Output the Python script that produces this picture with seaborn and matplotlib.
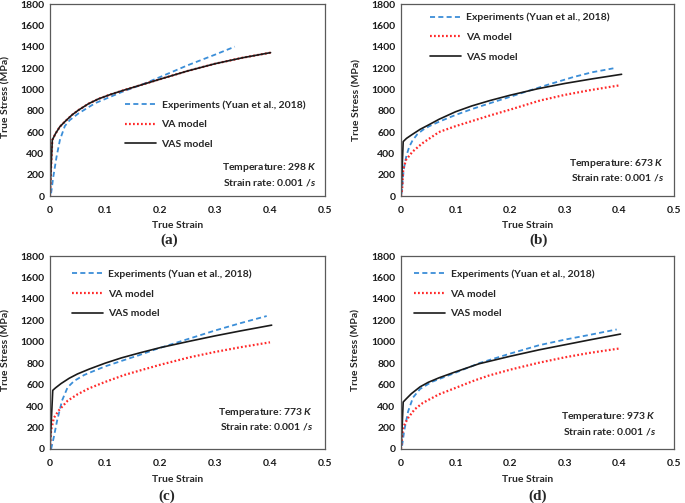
import matplotlib
matplotlib.use('Agg')
import matplotlib.pyplot as plt
import seaborn as sns

sns.set_style('white')
plt.rcParams['font.family'] = ['Lato', 'DejaVu Sans']
plt.rcParams['font.weight'] = 'bold'
plt.rcParams['mathtext.fontset'] = 'custom'
plt.rcParams['mathtext.it'] = 'Lato:italic:bold'
plt.rcParams['mathtext.rm'] = 'Lato:bold'

# ---- panel (a): 298 K ----
exp_a_x = [0.002, 0.006, 0.012, 0.018, 0.027, 0.036, 0.052, 0.082, 0.133, 0.17, 0.2, 0.25, 0.3, 0.336]
exp_a_y = [25, 180, 370, 525, 656, 712, 775, 870, 980, 1050, 1115, 1225, 1325, 1400]
va_a_x = [0.0, 0.002, 0.0042, 0.01, 0.018, 0.027, 0.04, 0.052, 0.07, 0.088, 0.11, 0.133, 0.17, 0.2, 0.25, 0.3, 0.35, 0.401]
va_a_y = [0, 280, 525, 585, 650, 697, 760, 806, 865, 910, 952, 990, 1048, 1095, 1172, 1240, 1296, 1344]
vas_a_x = [0.0, 0.002, 0.0042, 0.01, 0.018, 0.027, 0.04, 0.052, 0.07, 0.088, 0.11, 0.133, 0.17, 0.2, 0.25, 0.3, 0.35, 0.401]
vas_a_y = [0, 280, 525, 585, 650, 697, 760, 806, 865, 910, 952, 990, 1048, 1095, 1172, 1240, 1296, 1344]

# ---- panel (b): 673 K ----
exp_b_x = [0.001, 0.005, 0.01, 0.015, 0.021, 0.03, 0.04, 0.052, 0.0714, 0.1, 0.13, 0.163, 0.2, 0.236, 0.27, 0.3156, 0.35, 0.389]
exp_b_y = [20, 250, 380, 460, 520, 580, 620, 655, 700, 760, 815, 870, 930, 990, 1045, 1115, 1160, 1197]
va_b_x = [0.0, 0.002, 0.004, 0.009, 0.021, 0.039, 0.064, 0.0714, 0.1, 0.136, 0.163, 0.2, 0.2546, 0.3, 0.346, 0.401]
va_b_y = [0, 56, 244, 337, 415, 494, 580, 603, 655, 712, 755, 810, 895, 948, 992, 1038]
vas_b_x = [0.0, 0.002, 0.004, 0.01, 0.02, 0.035, 0.05, 0.07, 0.1, 0.13, 0.163, 0.2, 0.25, 0.3, 0.35, 0.404]
vas_b_y = [0, 250, 510, 540, 575, 625, 665, 720, 790, 845, 895, 945, 1005, 1055, 1098, 1141]

# ---- panel (c): 773 K ----
exp_c_x = [0.002, 0.007, 0.013, 0.022, 0.032, 0.044, 0.062, 0.0712, 0.1, 0.135, 0.162, 0.192, 0.2536, 0.3, 0.345, 0.394]
exp_c_y = [0, 112, 267, 453, 575, 635, 690, 710, 770, 830, 875, 930, 1030, 1105, 1172, 1240]
va_c_x = [0.0, 0.001, 0.002, 0.007, 0.016, 0.032, 0.05, 0.0712, 0.1, 0.135, 0.162, 0.2, 0.2536, 0.3, 0.345, 0.4]
va_c_y = [0, 100, 174, 290, 360, 450, 510, 566, 625, 690, 730, 785, 855, 905, 948, 995]
vas_c_x = [0.0, 0.002, 0.005, 0.01, 0.02, 0.035, 0.05, 0.0712, 0.1, 0.13, 0.162, 0.2, 0.2536, 0.3, 0.345, 0.403]
vas_c_y = [0, 220, 547, 570, 610, 660, 700, 745, 800, 850, 895, 945, 1005, 1055, 1100, 1155]

# ---- panel (d): 973 K ----
exp_d_x = [0.002, 0.006, 0.013, 0.022, 0.035, 0.056, 0.0696, 0.1, 0.143, 0.2, 0.253, 0.3, 0.344, 0.395]
exp_d_y = [30, 174, 350, 480, 560, 625, 652, 712, 800, 890, 968, 1020, 1063, 1115]
va_d_x = [0.0, 0.002, 0.004, 0.013, 0.025, 0.04, 0.0696, 0.1, 0.135, 0.161, 0.2, 0.253, 0.3, 0.344, 0.402]
va_d_y = [0, 120, 205, 290, 370, 430, 510, 570, 640, 685, 740, 805, 855, 895, 939]
vas_d_x = [0.0, 0.002, 0.004, 0.01, 0.019, 0.035, 0.05, 0.0696, 0.1, 0.143, 0.2, 0.253, 0.3, 0.344, 0.402]
vas_d_y = [0, 200, 438, 470, 516, 580, 622, 664, 720, 795, 865, 925, 972, 1016, 1072]

temps = ['298', '673', '773', '973']
panel_tags = ['(a)', '(b)', '(c)', '(d)']
series_names = ['Experiments (Yuan et al., 2018)', 'VA model', 'VAS model']
x_ticks = [0, 0.1, 0.2, 0.3, 0.4, 0.5]
x_labels = ['0', '0.1', '0.2', '0.3', '0.4', '0.5']
y_ticks = list(range(0, 1801, 200))

W, H = 685, 503


def box(l, t, r, b):
    return [l / W, 1 - b / H, (r - l) / W, (b - t) / H]


panels = [
    dict(data=[(exp_a_x, exp_a_y), (va_a_x, va_a_y), (vas_a_x, vas_a_y)],
         rect=(50, 4, 325, 196), leg=(0.273, 0.50), note=(0.97, 0.146, 0.068),
         ylab=(6, 97), xlab=(178, 226), tag=(169, 240)),
    dict(data=[(exp_b_x, exp_b_y), (va_b_x, va_b_y), (vas_b_x, vas_b_y)],
         rect=(401, 4, 674, 196), leg=(0.106, 0.955), note=(0.964, 0.167, 0.094),
         ylab=(357, 100), xlab=(528, 226), tag=(539, 240)),
    dict(data=[(exp_c_x, exp_c_y), (va_c_x, va_c_y), (vas_c_x, vas_c_y)],
         rect=(50, 256, 325, 449), leg=(0.08, 0.93), note=(0.957, 0.188, 0.116),
         ylab=(6, 350), xlab=(178, 479), tag=(167, 496)),
    dict(data=[(exp_d_x, exp_d_y), (va_d_x, va_d_y), (vas_d_x, vas_d_y)],
         rect=(401, 256, 674, 449), leg=(0.048, 0.93), note=(0.934, 0.167, 0.09),
         ylab=(356, 350), xlab=(528, 479), tag=(538, 496)),
]

styles = [
    dict(color='#3b8ed8', lw=1.3, linestyle=(0, (2.8, 1.8))),
    dict(color='#ff2a2a', lw=1.6, linestyle=(0, (0.8, 1.0))),
    dict(color='#1a1a1a', lw=1.2, linestyle='-'),
]

fig = plt.figure(figsize=(6.85, 5.03), dpi=100)

for i, p in enumerate(panels):
    ax = fig.add_axes(box(*p['rect']))
    for (xs, ys), name, st in zip(p['data'], series_names, styles):
        sns.lineplot(x=xs, y=ys, ax=ax, label=name, sort=False, **st)

    ax.set_xlim(0, 0.5)
    ax.set_ylim(0, 1800)
    ax.set_xticks(x_ticks)
    ax.set_xticklabels(x_labels)
    ax.set_yticks(y_ticks)
    ax.tick_params(length=0, labelsize=7.5, colors='#1a1a1a')
    ax.tick_params(axis='x', pad=7)
    ax.tick_params(axis='y', pad=4)
    ax.set_xlabel('')
    ax.set_ylabel('')
    for sp in ax.spines.values():
        sp.set_visible(True)
        sp.set_color('#5a5a5a')
        sp.set_linewidth(0.9)

    ax.legend(loc='upper left', bbox_to_anchor=p['leg'], frameon=False,
              borderaxespad=0, borderpad=0, handlelength=3.0,
              handletextpad=0.5, labelspacing=1.0, fontsize=7.5)

    nx, ny1, ny2 = p['note']
    ax.text(nx, ny1, 'Temperature: ' + temps[i] + ' $K$', transform=ax.transAxes,
            ha='right', va='center', fontsize=7.5, fontweight='bold')
    ax.text(nx, ny2, 'Strain rate: 0.001 /$s$', transform=ax.transAxes,
            ha='right', va='center', fontsize=7.5, fontweight='bold')

    lx, ly = p['ylab']
    fig.text(lx / W, 1 - ly / H, 'True Stress (MPa)', rotation=90,
             ha='center', va='center', fontsize=7.5, fontweight='bold')
    tx, ty = p['xlab']
    fig.text(tx / W, 1 - ty / H, 'True Strain', ha='center', va='center',
             fontsize=7.5, fontweight='bold')
    gx, gy = p['tag']
    fig.text(gx / W, 1 - gy / H, panel_tags[i], ha='center', va='center',
             fontsize=11, fontweight='bold', family='Liberation Serif')

fig.savefig('out.png', dpi=100)
